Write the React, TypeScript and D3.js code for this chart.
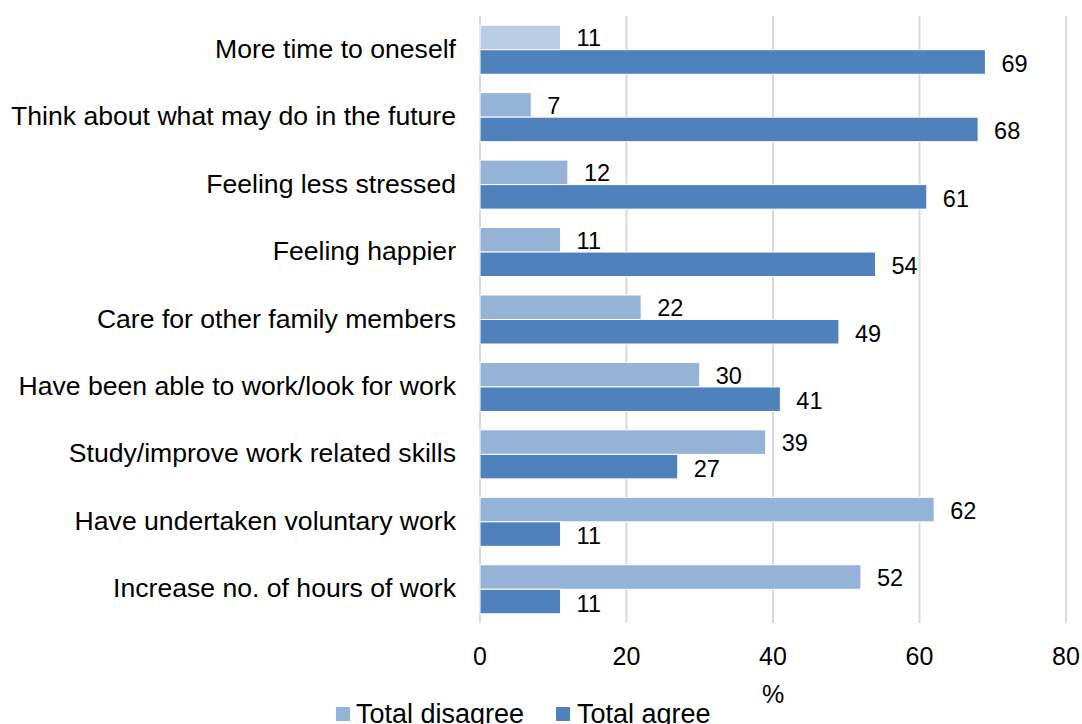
import React from "react";
import * as d3 from "d3";

const categories = [
  "More time to oneself",
  "Think about what may do in the future",
  "Feeling less stressed",
  "Feeling happier",
  "Care for other family members",
  "Have been able to work/look for work",
  "Study/improve work related skills",
  "Have undertaken voluntary work",
  "Increase no. of hours of work",
];
const disagree = [11, 7, 12, 11, 22, 30, 39, 62, 52];
const agree = [69, 68, 61, 54, 49, 41, 27, 11, 11];
const xTicks = [0, 20, 40, 60, 80];
const seriesNames = ["Total disagree", "Total agree"];

const W = 1082;
const H = 724;
const left = 480;
const right = 1066;
const top = 16;
const bottom = 623;
const font = "'Liberation Sans', Arial, sans-serif";
const cAgree = "#4f81bd";
const cDis = "#95b3d7";
const cDisFirst = "#b9cde5";

export default function App() {
  const x = d3.scaleLinear().domain([0, 80]).range([left, right]);
  const y = d3.scaleBand<string>().domain(categories).range([top, bottom]).paddingInner(0).paddingOuter(0);
  const bw = y.bandwidth();
  const groupH = bw * 0.727;
  const barH = groupH / 2;
  return (
    <svg width={W} height={H} style={{ position: "absolute", left: 0, top: 0, fontFamily: font }}>
      <rect width={W} height={H} fill="#fff" />
      {xTicks.map((t) => (
        <line key={t} x1={x(t)} x2={x(t)} y1={top} y2={bottom} stroke="#d9d9d9" strokeWidth={2} />
      ))}
      {categories.map((c, i) => {
        const y0 = (y(c) as number) + (bw - groupH) / 2;
        return (
          <g key={c}>
            <rect x={x(0)} y={y0} width={x(disagree[i]) - x(0)} height={barH} fill={i === 0 ? cDisFirst : cDis} stroke="#fff" strokeWidth={1} />
            <rect x={x(0)} y={y0 + barH} width={x(agree[i]) - x(0)} height={barH} fill={cAgree} stroke="#fff" strokeWidth={1} />
            <text x={x(disagree[i]) + 16} y={y0 + barH / 2 + 9} fontSize={23.5} fill="#000">{disagree[i]}</text>
            <text x={x(agree[i]) + 16} y={y0 + barH * 1.5 + 10} fontSize={23.5} fill="#000">{agree[i]}</text>
            <text x={456} y={(y(c) as number) + bw / 2 + 8} fontSize={26.6} textAnchor="end" fill="#000">{c}</text>
          </g>
        );
      })}
      {xTicks.map((t) => (
        <text key={t} x={x(t)} y={665} fontSize={25} textAnchor="middle" fill="#000">{t}</text>
      ))}
      <text x={x(40)} y={703} fontSize={25} textAnchor="middle" fill="#000">%</text>
      <rect x={336} y={707} width={14} height={14} fill={cDis} />
      <text x={356} y={722.5} fontSize={27} fill="#000">{seriesNames[0]}</text>
      <rect x={556} y={707} width={14} height={14} fill={cAgree} />
      <text x={577} y={722.5} fontSize={27} fill="#000">{seriesNames[1]}</text>
    </svg>
  );
}
